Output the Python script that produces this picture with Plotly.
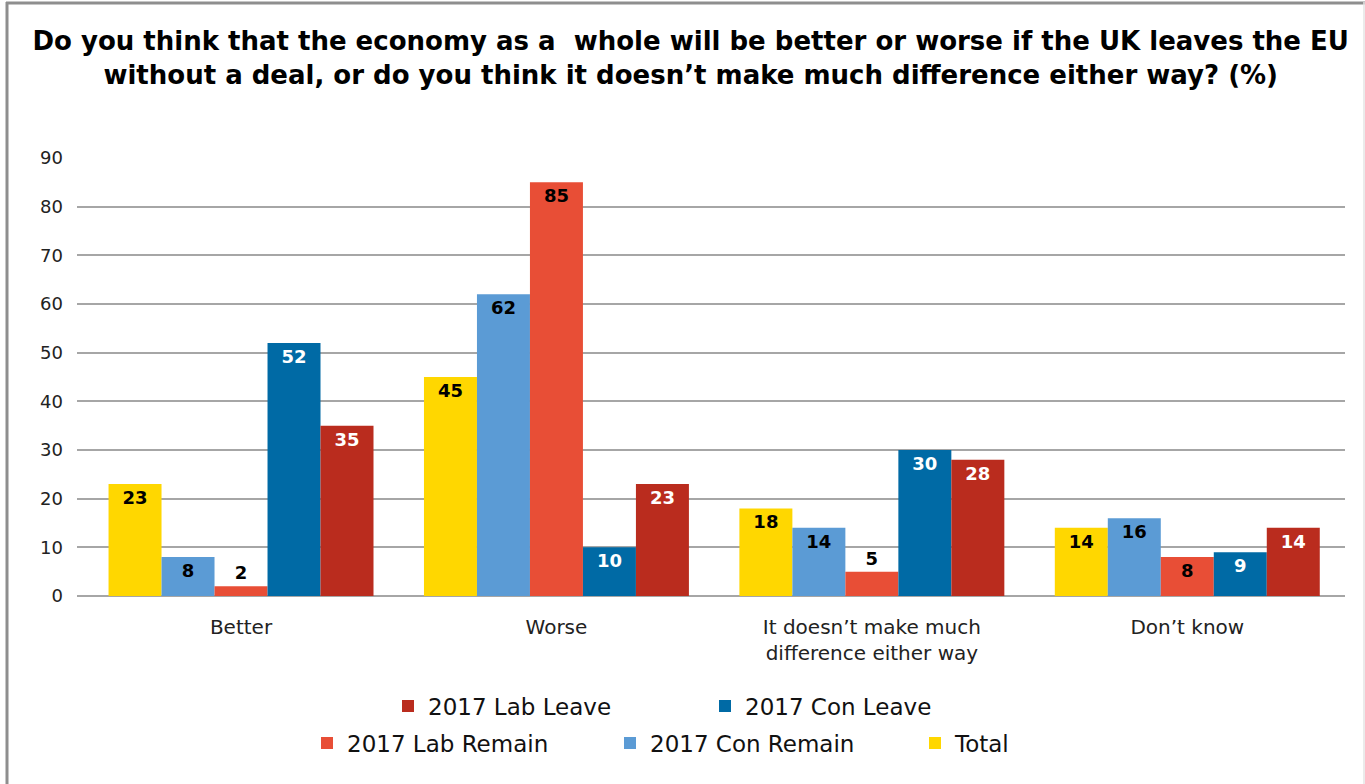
import plotly.graph_objects as go

W, H = 1365, 784

title_lines = [
    "Do you think that the economy as a  whole will be better or worse if the UK leaves the EU",
    "without a deal, or do you think it doesn’t make much difference either way? (%)",
]
categories = ["Better", "Worse", "It doesn’t make much<br>difference either way", "Don’t know"]
series_names = ["Total", "2017 Con Remain", "2017 Lab Remain", "2017 Con Leave", "2017 Lab Leave"]
total = [23, 45, 18, 14]
con_remain = [8, 62, 14, 16]
lab_remain = [2, 85, 5, 8]
con_leave = [52, 10, 30, 9]
lab_leave = [35, 23, 28, 14]
series_values = [total, con_remain, lab_remain, con_leave, lab_leave]
y_ticks = [0, 10, 20, 30, 40, 50, 60, 70, 80, 90]

colors = ["#FFD700", "#5B9BD5", "#E84E36", "#006AA5", "#BA2C1E"]
label_colors = ["#000000", "#000000", "#000000", "#FFFFFF", "#FFFFFF"]
# legend placement (container px): (left x, centre y)
legend_pos = {
    "2017 Lab Leave": (388, 706),
    "2017 Con Leave": (705, 706),
    "Total": (915, 743),
    "2017 Con Remain": (610, 743),
    "2017 Lab Remain": (307, 743),
}

L, R, T, B = 77, 20, 158, 188
font_main = "DejaVu Sans"

fig = go.Figure()
for i, (name, vals) in enumerate(zip(series_names, series_values)):
    positions = ["outside" if v < 6 else "inside" for v in vals]
    legend_id = "legend" if i == 0 else f"legend{i + 1}"
    fig.add_trace(go.Bar(
        x=categories, y=vals, name=name,
        marker=dict(color=colors[i], line=dict(width=0)),
        text=[str(v) for v in vals],
        textposition=positions,
        insidetextanchor="end",
        insidetextfont=dict(color=label_colors[i], size=18, family="DejaVu Sans", weight="bold"),
        outsidetextfont=dict(color="#000000", size=18, family="DejaVu Sans", weight="bold"),
        constraintext="none",
        cliponaxis=False,
        legend=legend_id,
        showlegend=True,
        hoverinfo="x+y+name",
    ))

layout_legends = {}
for i, name in enumerate(series_names):
    legend_id = "legend" if i == 0 else f"legend{i + 1}"
    lx, ly = legend_pos[name]
    layout_legends[legend_id] = dict(
        xref="container", yref="container",
        x=lx / W, y=1 - ly / H, xanchor="left", yanchor="middle",
        orientation="h", bgcolor="rgba(0,0,0,0)",
        font=dict(family=font_main, size=23, color="#111111"),
        itemclick=False, itemdoubleclick=False,
    )

def px_to_paper_x(px):
    return (px - L) / (W - L - R)

def px_to_paper_y(py):
    return 1 - (py - T) / (H - T - B)

shapes = [
    dict(type="line", xref="paper", yref="paper",
         x0=px_to_paper_x(7), x1=px_to_paper_x(7), y0=px_to_paper_y(2), y1=px_to_paper_y(790),
         line=dict(color="#8E8E8E", width=3)),
    dict(type="line", xref="paper", yref="paper",
         x0=px_to_paper_x(6), x1=px_to_paper_x(1366), y0=px_to_paper_y(3), y1=px_to_paper_y(3),
         line=dict(color="#8E8E8E", width=3)),
    dict(type="line", xref="paper", yref="paper",
         x0=px_to_paper_x(1364), x1=px_to_paper_x(1364), y0=px_to_paper_y(2), y1=px_to_paper_y(790),
         line=dict(color="#E4E4E4", width=1.5)),
]

fig.update_layout(
    width=W, height=H,
    margin=dict(l=L, r=R, t=T, b=B),
    paper_bgcolor="white", plot_bgcolor="white",
    barmode="group", bargap=0.16, bargroupgap=0,
    showlegend=True,
    title=dict(
        text="<br>".join(title_lines),
        x=0.506, xanchor="center", y=1 - 50 / H, yanchor="top",
        font=dict(family="DejaVu Sans", size=26, color="#000000", weight="bold"),
    ),
    xaxis=dict(
        range=[-0.52, 3.5],
        showgrid=False, showline=False, zeroline=False, ticks="",
        tickfont=dict(family=font_main, size=20, color="#222222"),
        ticklabelstandoff=17,
        fixedrange=True,
    ),
    yaxis=dict(
        range=[0, 90], tickvals=y_ticks, showgrid=True,
        gridcolor="#A6A6A6", gridwidth=1.5, zeroline=True, zerolinecolor="#A6A6A6", zerolinewidth=1.5,
        showline=False, ticks="",
        tickfont=dict(family=font_main, size=18, color="#222222"),
        ticklabelstandoff=13,
        fixedrange=True,
    ),
    shapes=shapes,
    font=dict(family=font_main),
    **layout_legends,
)

fig.write_html(
    "out.html",
    config={"displayModeBar": False},
    post_script="document.body.style.margin='0';document.body.style.overflow='hidden';",
)
